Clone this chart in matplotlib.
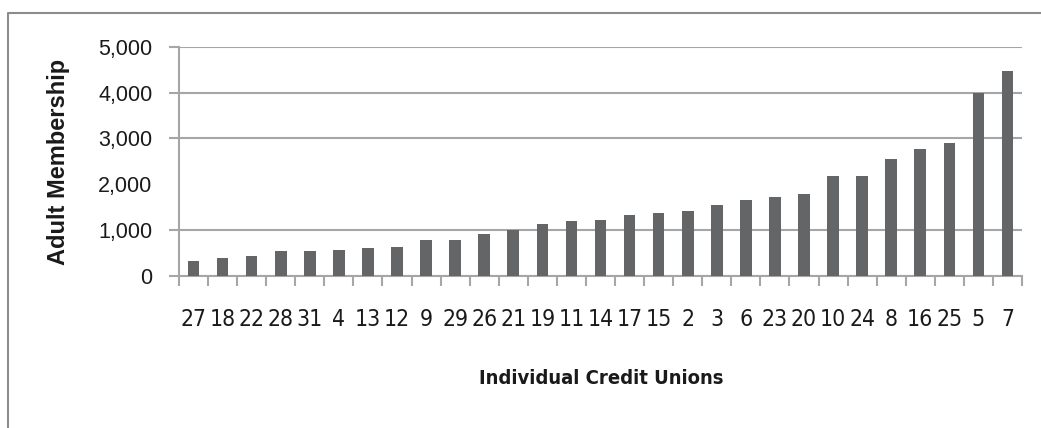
import matplotlib
matplotlib.use("Agg")
import matplotlib.pyplot as plt
from matplotlib.lines import Line2D
import numpy as np

# credit union ids, sorted by adult membership
unions = ["27", "18", "22", "28", "31", "4", "13", "12", "9", "29", "26", "21", "19", "11", "14",
          "17", "15", "2", "3", "6", "23", "20", "10", "24", "8", "16", "25", "5", "7"]
members = [330, 390, 430, 540, 540, 570, 600, 640, 780, 780, 920, 1010, 1130, 1190, 1230,
           1340, 1370, 1410, 1550, 1650, 1720, 1790, 2180, 2180, 2560, 2780, 2910, 4000, 4480]
grid_vals = [0, 1000, 3000, 4000, 5000]   # no line at 2,000 in the original
label_only = [2000]

grey = "#a6a6a6"
bar_col = "#646567"
txt = "#1a1a1a"
fmt = lambda v: "{:,}".format(v)

fig = plt.figure(figsize=(10.41, 4.28), dpi=100)
ax = fig.add_axes([179 / 1041, 1 - 276 / 428, 843 / 1041, (276 - 46.7) / 428])

x = np.arange(len(unions))
ax.bar(x, members, width=0.4, color=bar_col, zorder=3)

ax.set_xlim(-0.5, len(unions) - 0.5)
ax.set_ylim(0, 5000)

ax.set_yticks(grid_vals)
ax.set_yticklabels([fmt(v) for v in grid_vals])
ax.set_yticks(label_only, minor=True)
ax.set_yticklabels([fmt(v) for v in label_only], minor=True)
for lab in ax.get_yticklabels(which="both"):
    lab.set_fontsize(15.5)
    lab.set_family("Liberation Sans")
    lab.set_color(txt)
ax.yaxis.grid(True, which="major", color=grey, linewidth=1.5, zorder=0)
ax.tick_params(axis="y", which="major", length=7, width=1.5, color=grey, pad=12)
ax.tick_params(axis="y", which="minor", length=0, pad=19)

ax.set_xticks(x)
ax.set_xticklabels(unions, fontsize=16.5, family="DejaVu Sans", fontstretch="condensed",
                   color=txt)
ax.set_xticks(np.arange(len(unions) + 1) - 0.5, minor=True)
ax.tick_params(axis="x", which="major", length=0, pad=23)
ax.tick_params(axis="x", which="minor", length=7, width=1.5, color=grey, direction="out")

for s in ["top", "right"]:
    ax.spines[s].set_visible(False)
for s in ["left", "bottom"]:
    ax.spines[s].set_color(grey)
    ax.spines[s].set_linewidth(1.5)

fig.text(59 / 1041, 1 - 162 / 428, "Adult Membership", rotation=90, ha="center", va="center",
         fontsize=17, fontweight="bold", family="Liberation Sans", color=txt)
fig.text(601 / 1041, 1 - 378 / 428, "Individual Credit Unions", ha="center", va="center",
         fontsize=14.5, fontweight="bold", family="DejaVu Sans", fontstretch="condensed",
         color=txt)

# outer chart frame (cut off at right and bottom)
fx, fy = 7.5 / 1041, 1 - 12.5 / 428
fig.add_artist(Line2D([fx, fx, 1], [0, fy, fy], transform=fig.transFigure,
                      color="#8c8c8c", linewidth=1.5))

fig.savefig("out.png", dpi=100)
